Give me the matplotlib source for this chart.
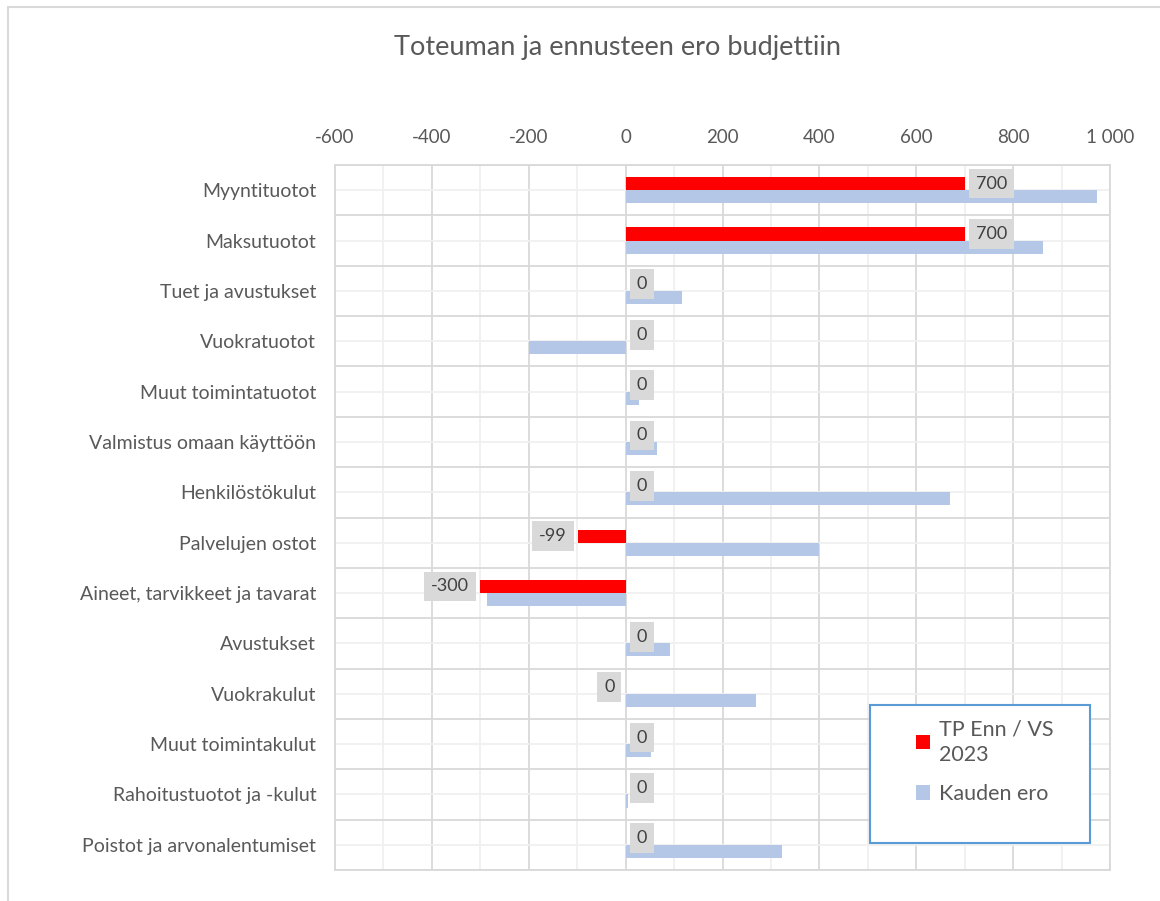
import numpy as np
import matplotlib.pyplot as plt
from matplotlib.patches import Rectangle
from matplotlib.ticker import MultipleLocator

plt.rcParams['font.family'] = ['Lato', 'DejaVu Sans']

# Categories, top to bottom
categories = ['Myyntituotot', 'Maksutuotot', 'Tuet ja avustukset', 'Vuokratuotot',
              'Muut toimintatuotot', 'Valmistus omaan käyttöön', 'Henkilöstökulut',
              'Palvelujen ostot', 'Aineet, tarvikkeet ja tavarat', 'Avustukset',
              'Vuokrakulut', 'Muut toimintakulut', 'Rahoitustuotot ja -kulut',
              'Poistot ja arvonalentumiset']
tp_enn = [700, 700, 0, 0, 0, 0, 0, -99, -300, 0, -0.01, 0, 0, 0]
kauden_ero = [973, 861, 116, -200, 27, 64, 669, 400, -286, 91, 269, 52, 4, 323]
xticks = [-600, -400, -200, 0, 200, 400, 600, 800, 1000]
xtick_labels = ['-600', '-400', '-200', '0', '200', '400', '600', '800', '1 000']

txt = '#595959'
W, H = 1160, 901
fig = plt.figure(figsize=(W / 100, H / 100), dpi=100)
ax = fig.add_axes([335 / W, 1 - 870 / H, (1110 - 335) / W, (870 - 165) / H])

y = np.arange(len(categories))
h = 0.26
ax.barh(y - h / 2, tp_enn, height=h, color='#ff0000', zorder=3, label='TP Enn / VS\n2023')
ax.barh(y + h / 2, kauden_ero, height=h, color='#b4c7e7', zorder=3, label='Kauden ero')

# data labels for the red series
for yi, v in zip(y, tp_enn):
    neg = v < 0
    ax.annotate(str(int(round(v))), (v, yi - h / 2), xytext=(-11 if neg else 11, 0),
                textcoords='offset pixels', ha='right' if neg else 'left', va='center',
                fontsize=13, color='#404040', zorder=5,
                bbox=dict(boxstyle='square,pad=0.38', fc='#d9d9d9', ec='none'))

ax.set_xlim(-600, 1000)
ax.set_ylim(len(categories) - 0.5, -0.5)
ax.set_xticks(xticks)
ax.set_xticklabels(xtick_labels)
ax.xaxis.set_minor_locator(MultipleLocator(100))
ax.set_yticks(y)
ax.set_yticklabels(categories)
ax.set_yticks(np.arange(len(categories) + 1) - 0.5, minor=True)
ax.xaxis.tick_top()
ax.tick_params(axis='both', which='both', length=0, colors=txt)
ax.tick_params(axis='x', labelsize=13.5, pad=14)
ax.tick_params(axis='y', labelsize=14, pad=13.5)

ax.grid(True, which='major', axis='x', color='#d9d9d9', lw=1.3, zorder=0)
ax.grid(True, which='minor', axis='x', color='#f0f0f0', lw=1.3, zorder=0)
ax.grid(True, which='minor', axis='y', color='#d9d9d9', lw=1.3, zorder=0)
ax.grid(True, which='major', axis='y', color='#f0f0f0', lw=1.3, zorder=0)
for s in ax.spines.values():
    s.set_color('#d9d9d9')
    s.set_linewidth(1.3)

# legend frame drawn separately so it can keep its fixed size
ax.add_patch(Rectangle((870 / W, 1 - 843 / H), 220 / W, 138 / H, transform=fig.transFigure,
                       fc='white', ec='#5b9bd5', lw=1.5, zorder=6, clip_on=False))
leg = ax.legend(loc='upper left', bbox_to_anchor=(916 / W, 1 - 719 / H),
                bbox_transform=fig.transFigure, fontsize=15.5, frameon=False,
                handlelength=0.65, handleheight=0.65, handletextpad=0.4,
                labelspacing=0.9, borderpad=0, borderaxespad=0)
leg.set_zorder(7)
for t in leg.get_texts():
    t.set_color(txt)
    t.set_linespacing(1.35)

fig.text(617 / W, 1 - 48 / H, 'Toteuman ja ennusteen ero budjettiin', ha='center', va='center',
         fontsize=19.5, color=txt)

# outer chart frame
fig.patches.append(Rectangle((8 / W, -0.05), 1.1, 1.05 - 7 / H, transform=fig.transFigure,
                             fill=False, ec='#d9d9d9', lw=1.5))

fig.savefig('out.png', dpi=100)
